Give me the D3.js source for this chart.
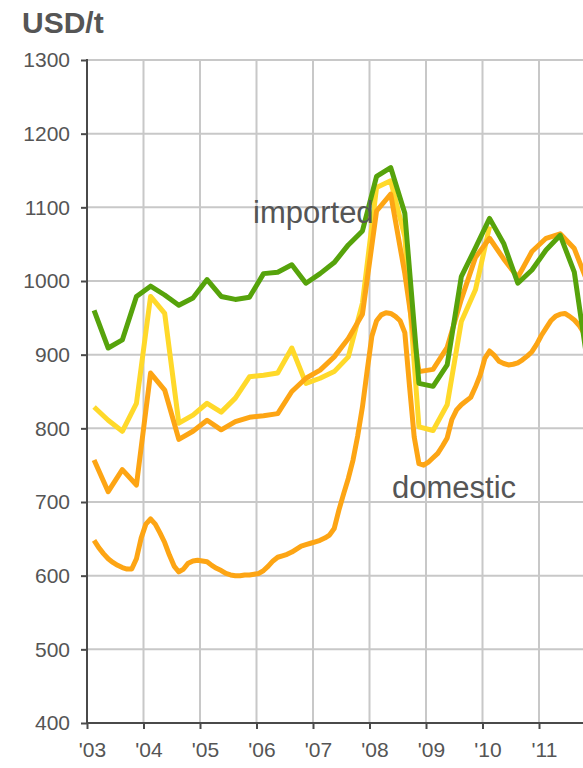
<!DOCTYPE html>
<html>
<head>
<meta charset="utf-8">
<script src="https://cdn.jsdelivr.net/npm/d3@7"></script>
<style>
  html, body { margin: 0; padding: 0; background: #fff; }
  svg { display: block; font-family: "Liberation Sans", Arial, sans-serif; }
</style>
</head>
<body>
<svg id="chart" width="583" height="768"></svg>
<script>
// Quarterly price series, 2003 Q1 – 2011 Q4 (USD per tonne)
const quarters = [
  "2003Q1","2003Q2","2003Q3","2003Q4","2004Q1","2004Q2","2004Q3","2004Q4",
  "2005Q1","2005Q2","2005Q3","2005Q4","2006Q1","2006Q2","2006Q3","2006Q4",
  "2007Q1","2007Q2","2007Q3","2007Q4","2008Q1","2008Q2","2008Q3","2008Q4",
  "2009Q1","2009Q2","2009Q3","2009Q4","2010Q1","2010Q2","2010Q3","2010Q4",
  "2011Q1","2011Q2","2011Q3","2011Q4"
];
const importedPrice = [
  960, 909, 920, 979, 993, 981, 967, 977, 1002, 979, 975, 978,
  1010, 1012, 1022, 997, 1010, 1025, 1049, 1068, 1142, 1154, 1092, 861,
  857, 886, 1006, 1045, 1085, 1051, 997, 1015, 1042, 1062, 1012, 880
];
// yellow series ends in 2010 Q1
const yellowPrice = [
  829, 811, 796, 834, 979, 956, 807, 818, 834, 822, 841, 870,
  872, 875, 909, 861, 868, 877, 897, 970, 1127, 1136, 1060, 802,
  797, 832, 945, 988, 1074
];
const orangePrice = [
  757, 714, 744, 723, 875, 852, 785, 796, 811, 798, 809, 815,
  817, 820, 850, 868, 879, 897, 922, 955, 1095, 1118, 1010, 877,
  880, 910, 975, 1032, 1058, 1030, 1005, 1040, 1058, 1064, 1044, 995
];

// Monthly domestic price, from 2003-02
const domesticStart = "2003-02";
const domesticPrice = [
  648, 638, 630, 623, 618, 614, 611, 609, 609, 623, 651,
  670, 677, 670, 658, 645, 628, 613, 605, 609, 617, 620, 621,
  620, 619, 614, 610, 607, 603, 601, 600, 600, 601, 601, 602,
  603, 607, 613, 620, 625, 627, 629, 632, 636, 640, 642, 644,
  646, 648, 651, 655, 664, 689, 711, 732, 757, 790, 829, 878,
  925, 946, 954, 957, 956, 952, 946, 930, 857, 788, 752, 750,
  754, 760, 766, 776, 787, 812, 825, 832, 837, 842, 856, 872,
  895, 905, 899, 891, 888, 886, 887, 889, 893, 898, 904, 914,
  926, 936, 946, 952, 955, 956, 952, 947, 940, 930
];

const yearTicks = [2003, 2004, 2005, 2006, 2007, 2008, 2009, 2010, 2011];
const valueTicks = [400, 500, 600, 700, 800, 900, 1000, 1100, 1200, 1300];

const COLORS = { green: "#56a30b", yellow: "#ffd92a", orange: "#fda514" };
const TEXT = "#555555";
const GRID = "#c8c8c8";

const svg = d3.select("#chart");
const W = 583;
const plotLeft = 87, plotTop = 60, plotBottom = 723;

const x = d3.scaleLinear().domain([2003, 2012.5]).range([plotLeft, plotLeft + 9.5 * 56.5]);
const y = d3.scaleLinear().domain([400, 1300]).range([plotBottom, plotTop]);

// fractional-year positions
const quarterPos = q => {
  const yr = +q.slice(0, 4), n = +q.slice(5);
  return yr + (n - 1) / 4 + 0.125;
};
const [dsYear, dsMonth] = domesticStart.split("-").map(Number);
const monthPos = i => {
  const m = dsMonth - 1 + i;
  return dsYear + Math.floor(m / 12) + ((m % 12) + 0.5) / 12;
};

// gridlines
svg.append("g")
  .selectAll("line")
  .data(valueTicks.slice(1))
  .join("line")
  .attr("x1", plotLeft).attr("x2", W)
  .attr("y1", d => y(d)).attr("y2", d => y(d))
  .attr("stroke", GRID).attr("stroke-width", 2);
svg.append("g")
  .selectAll("line")
  .data(yearTicks.slice(1))
  .join("line")
  .attr("x1", d => x(d)).attr("x2", d => x(d))
  .attr("y1", plotTop).attr("y2", plotBottom)
  .attr("stroke", GRID).attr("stroke-width", 2);

// axes
const yAxis = svg.append("g")
  .attr("transform", `translate(${plotLeft},0)`)
  .call(d3.axisLeft(y).tickValues(valueTicks).tickSize(6).tickPadding(11).tickFormat(d3.format("d")));
const xAxis = svg.append("g")
  .attr("transform", `translate(0,${plotBottom})`)
  .call(d3.axisBottom(x).tickValues(yearTicks).tickSize(6).tickPadding(13)
    .tickFormat(d => "'" + String(d).slice(2)));
[yAxis, xAxis].forEach(g => {
  g.select(".domain").remove();
  g.selectAll(".tick line").attr("stroke", "#4a4a4a").attr("stroke-width", 2);
  g.selectAll("text").attr("fill", TEXT).style("font-size", "21px")
    .style("font-family", '"Liberation Sans", Arial, sans-serif');
});
xAxis.selectAll("text").attr("dx", 5);
svg.append("line")
  .attr("x1", plotLeft).attr("x2", plotLeft).attr("y1", plotTop - 1).attr("y2", plotBottom + 1)
  .attr("stroke", "#4a4a4a").attr("stroke-width", 2);
svg.append("line")
  .attr("x1", plotLeft - 1).attr("x2", W).attr("y1", plotBottom).attr("y2", plotBottom)
  .attr("stroke", "#4a4a4a").attr("stroke-width", 2);

// series lines
const plot = svg.append("g");
const line = d3.line().x(d => x(d[0])).y(d => y(d[1]));

const domesticPts = domesticPrice.map((v, i) => [monthPos(i), v]);
const yellowPts = yellowPrice.map((v, i) => [quarterPos(quarters[i]), v]);
const orangePts = orangePrice.map((v, i) => [quarterPos(quarters[i]), v]);
const importedPts = importedPrice.map((v, i) => [quarterPos(quarters[i]), v]);

[[domesticPts, COLORS.orange], [yellowPts, COLORS.yellow],
 [orangePts, COLORS.orange], [importedPts, COLORS.green]].forEach(([pts, c]) => {
  plot.append("path")
    .datum(pts)
    .attr("d", line)
    .attr("fill", "none")
    .attr("stroke", c)
    .attr("stroke-width", 5)
    .attr("stroke-linejoin", "round");
});

// title and series labels
svg.append("text")
  .attr("x", 22).attr("y", 33)
  .attr("fill", TEXT)
  .style("font-size", "30px").style("font-weight", "bold")
  .text("USD/t");
svg.append("text")
  .attr("x", 253).attr("y", 223)
  .attr("fill", TEXT)
  .style("font-size", "31px")
  .text("imported");
svg.append("text")
  .attr("x", 392).attr("y", 498)
  .attr("fill", TEXT)
  .style("font-size", "31px")
  .text("domestic");
</script>
</body>
</html>
